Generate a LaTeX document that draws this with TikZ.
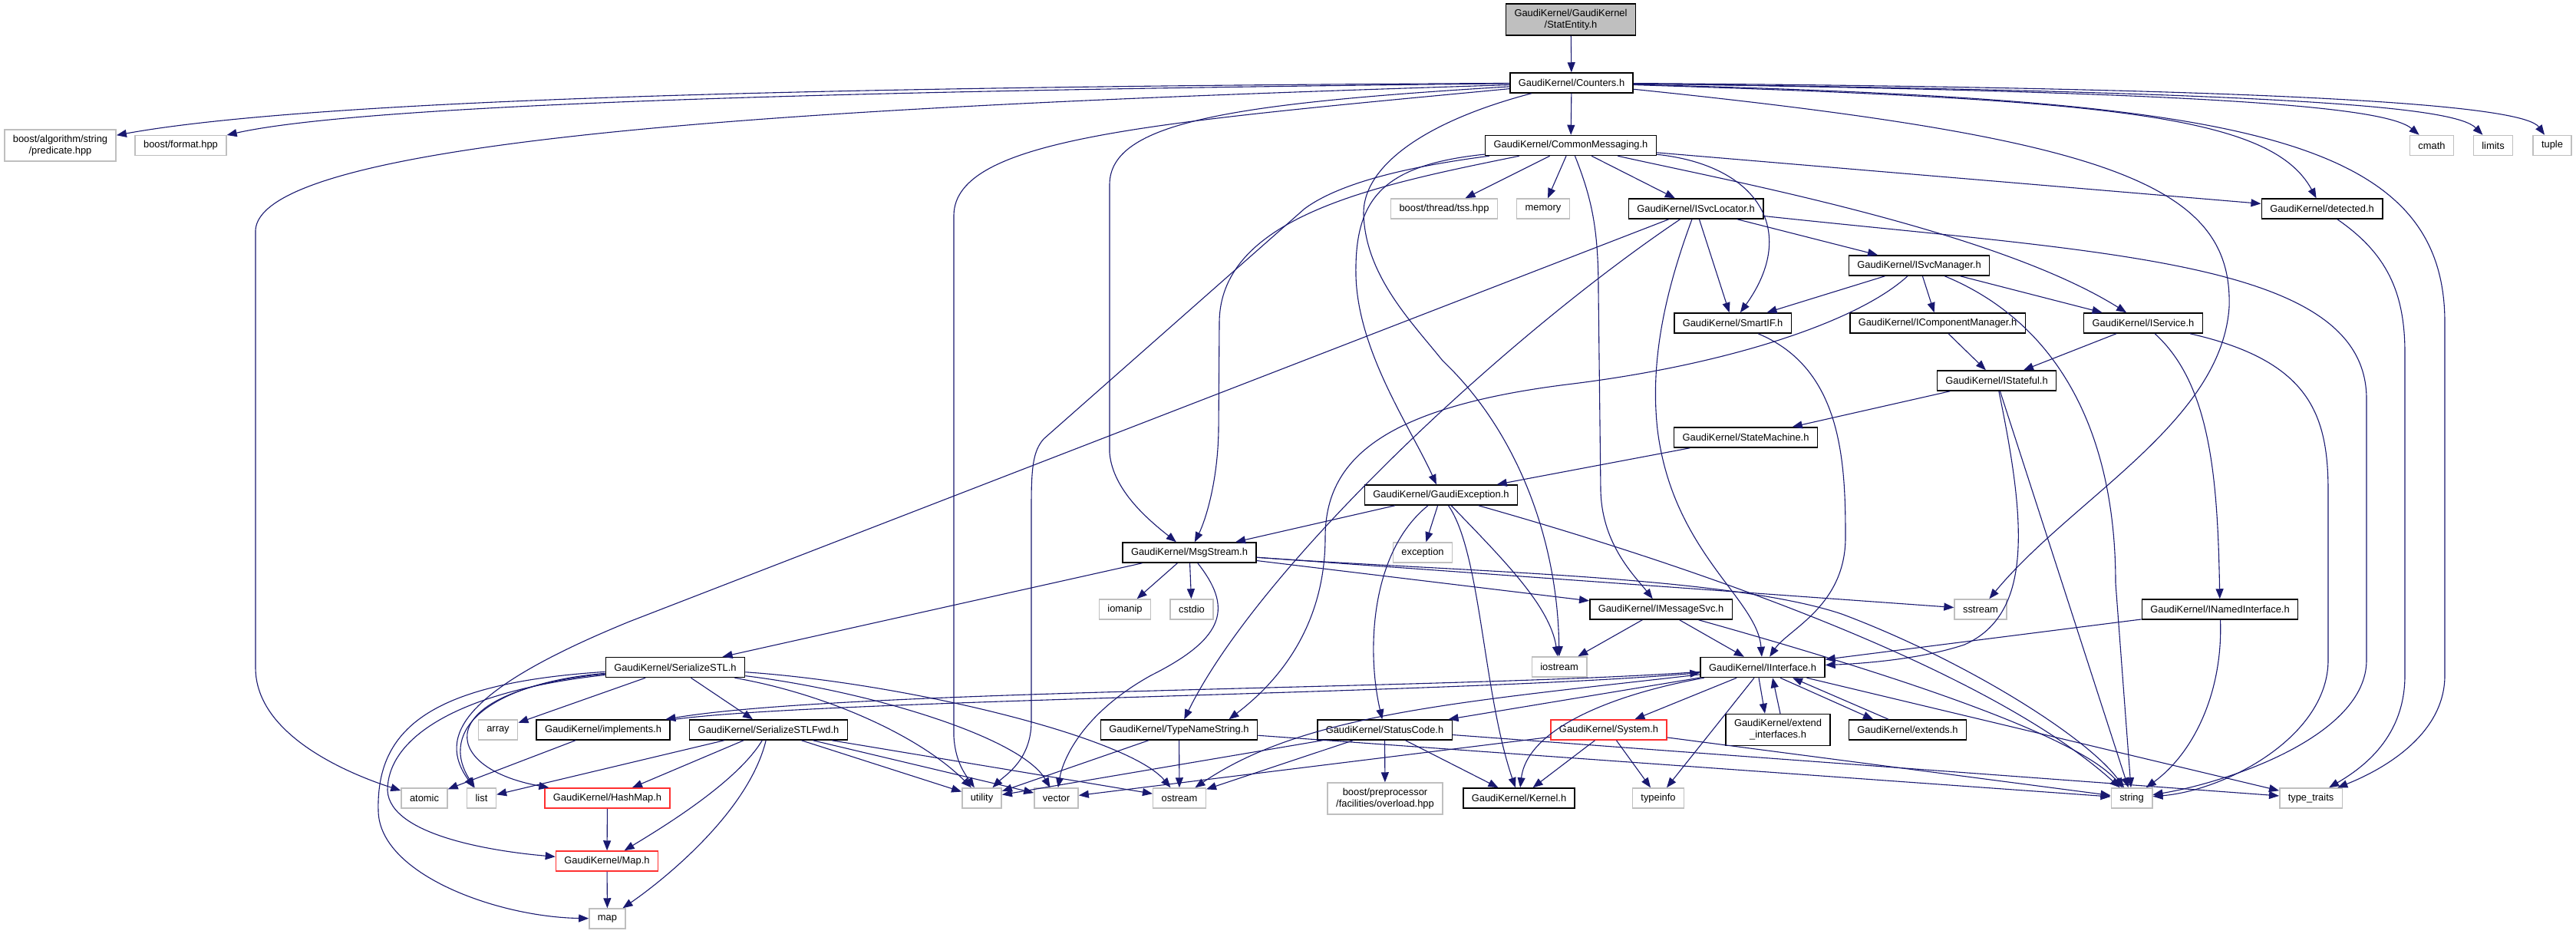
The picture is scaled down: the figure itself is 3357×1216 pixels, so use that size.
\documentclass[tikz,border=0pt]{standalone}
\usepackage{fontspec}
\setmainfont{Liberation Sans}
\usetikzlibrary{arrows.meta}
\definecolor{Edge}{HTML}{191970}
\definecolor{SysLine}{HTML}{BFBFBF}
\definecolor{RootFill}{HTML}{BFBFBF}
\definecolor{Warn}{HTML}{FF3030}

\begin{document}
\begin{tikzpicture}[x=1pt,y=-1pt,>={Triangle[length=13pt,width=10pt]},
 font=\fontsize{12.9}{15}\selectfont,
 hdr/.style={draw=black,line width=1.5pt,fill=white,inner xsep=11pt,inner ysep=2pt,minimum height=26pt,align=center},
 syshdr/.style={hdr,draw=SysLine},
 redhdr/.style={hdr,draw=Warn},
 roothdr/.style={hdr,fill=RootFill},
 twoline/.style={minimum height=41pt},
 dep/.style={->,draw=Edge,line width=1.1pt}]
\useasboundingbox (0,0) rectangle (3357,1216);

\node[roothdr,twoline] (stat) at (2047,25.5) {GaudiKernel/GaudiKernel\\/StatEntity.h};
\node[hdr] (counters) at (2048,108) {GaudiKernel/Counters.h};
\node[syshdr,twoline] (pred) at (78.5,189.5) {boost/algorithm/string\\/predicate.hpp};
\node[syshdr] (fmt) at (235.5,189.5) {boost/format.hpp};
\node[hdr] (cm) at (2047,189.5) {GaudiKernel/CommonMessaging.h};
\node[syshdr] (tss) at (1882,272) {boost/thread/tss.hpp};
\node[hdr] (svcloc) at (2210,272) {GaudiKernel/ISvcLocator.h};
\node[hdr] (detected) at (3026,272) {GaudiKernel/detected.h};
\node[hdr] (svcmgr) at (2501,346) {GaudiKernel/ISvcManager.h};
\node[hdr] (smartif) at (2258,421) {GaudiKernel/SmartIF.h};
\node[hdr] (compmgr) at (2525,421) {GaudiKernel/IComponentManager.h};
\node[hdr] (iservice) at (2793,421) {GaudiKernel/IService.h};
\node[hdr] (istateful) at (2602,496) {GaudiKernel/IStateful.h};
\node[hdr] (statemach) at (2275,570) {GaudiKernel/StateMachine.h};
\node[hdr] (gexc) at (1878,645) {GaudiKernel/GaudiException.h};
\node[hdr] (msgstream) at (1550,720) {GaudiKernel/MsgStream.h};
\node[hdr] (imsgsvc) at (2164.5,794) {GaudiKernel/IMessageSvc.h};
\node[hdr] (inamed) at (2893,794) {GaudiKernel/INamedInterface.h};
\node[hdr] (sstl) at (880,869.5) {GaudiKernel/SerializeSTL.h};
\node[hdr] (iinterface) at (2297,869.5) {GaudiKernel/IInterface.h};
\node[hdr] (implements) at (786,951) {GaudiKernel/implements.h};
\node[hdr] (sstlfwd) at (1001.5,951) {GaudiKernel/SerializeSTLFwd.h};
\node[hdr] (typename) at (1536.5,951) {GaudiKernel/TypeNameString.h};
\node[hdr] (statuscode) at (1804.5,951) {GaudiKernel/StatusCode.h};
\node[redhdr] (system) at (2096.5,951) {GaudiKernel/System.h};
\node[hdr,twoline] (extendif) at (2317,951) {GaudiKernel/extend\\\_interfaces.h};
\node[hdr] (extends) at (2486,951) {GaudiKernel/extends.h};
\node[redhdr] (hashmap) at (791.5,1040) {GaudiKernel/HashMap.h};
\node[syshdr,twoline] (overload) at (1805,1040.5) {boost/preprocessor\\/facilities/overload.hpp};
\node[hdr] (kernel) at (1979.5,1040) {GaudiKernel/Kernel.h};
\node[redhdr] (maph) at (791,1122) {GaudiKernel/Map.h};
\foreach \n/\x/\y/\t in {cmath/3169/189.5/cmath,limits/3249/189.5/limits,tuple/3326/189.5/tuple,
 memory/2011/272/memory,exception/1854/720/exception,iomanip/1466/794/iomanip,cstdio/1553/794/cstdio,
 sstream/2581/794/sstream,iostream/2032/869/iostream,array/649/951/array,atomic/553/1040/atomic,
 list/627.5/1040/list,utility/1279.5/1040/utility,vector/1376.5/1040/vector,ostream/1537/1040/ostream,
 typeinfo/2161/1040/typeinfo,string/2778/1040/string,typetraits/3011.5/1040/type\_traits,map/791.5/1197/map}
 \node[syshdr] (\n) at (\x,\y) {\t};

\foreach \a/\b in {stat/counters,counters/cm,cm/tss,cm/memory,cm/svcloc,cm/detected,
 svcloc/smartif,svcloc/svcmgr,svcmgr/smartif,svcmgr/compmgr,svcmgr/iservice,compmgr/istateful,
 iservice/istateful,istateful/statemach,statemach/gexc,gexc/msgstream,gexc/exception,
 msgstream/sstl,msgstream/iomanip,msgstream/cstdio,msgstream/imsgsvc,msgstream/sstream,
 imsgsvc/iostream,imsgsvc/iinterface,inamed/iinterface,istateful/string,sstl/array,sstl/sstlfwd,
 implements/atomic,sstlfwd/list,sstlfwd/hashmap,sstlfwd/utility,sstlfwd/vector,sstlfwd/ostream,
 hashmap/maph,maph/map,typename/utility,typename/ostream,typename/string,
 statuscode/utility,statuscode/ostream,statuscode/overload,statuscode/kernel,statuscode/typetraits,
 system/vector,system/kernel,system/typeinfo,system/string,
 iinterface/system,iinterface/typeinfo,iinterface/statuscode,iinterface/typetraits}
 \draw[dep] (\a) -- (\b);

\draw[dep] (counters) .. controls (1300,112) and (450,122) .. (pred);
\draw[dep] (counters) .. controls (1300,116) and (500,130) .. (fmt);
\draw[dep] (counters) .. controls (1200,135) and (340,170) .. (333,300) -- (333,870)
 .. controls (333,960) and (460,1010) .. (atomic);
\draw[dep] (counters) .. controls (1500,160) and (1245,180) .. (1243,280) -- (1243,960)
 .. controls (1245,990) and (1255,1005) .. (utility);
\draw[dep] (counters) .. controls (1600,135) and (1447,160) .. (1446,240) -- (1446,590)
 .. controls (1450,640) and (1500,680) .. (msgstream);
\draw[dep] (counters) .. controls (1850,160) and (1775,220) .. (1777,280)
 .. controls (1780,360) and (1840,420) .. (1880,470)
 .. controls (1975,560) and (2030,700) .. (iostream);
\draw[dep] (counters) .. controls (2750,180) and (2910,240) .. (2905,400)
 .. controls (2895,550) and (2700,650) .. (sstream);
\draw[dep] (counters) .. controls (2750,130) and (2960,150) .. (detected);
\draw[dep] (counters) .. controls (2900,120) and (3110,140) .. (cmath);
\draw[dep] (counters) .. controls (3000,120) and (3200,140) .. (limits);
\draw[dep] (counters) .. controls (3050,115) and (3290,140) .. (tuple);
\draw[dep] (counters) .. controls (2900,130) and (3186,170) .. (3186,420) -- (3186,880)
 .. controls (3186,960) and (3100,1005) .. (typetraits);

\draw[dep] (cm) .. controls (2250,235) and (2600,300) .. (iservice);
\draw[dep] (cm) .. controls (2290,215) and (2345,300) .. (smartif);
\draw[dep] (cm) .. controls (2075,260) and (2083,300) .. (2083,380) -- (2086,640)
 .. controls (2088,710) and (2130,750) .. (imsgsvc);
\draw[dep] (cm) .. controls (1800,215) and (1765,260) .. (1767,360)
 .. controls (1770,460) and (1840,560) .. (gexc);
\draw[dep] (cm) .. controls (1800,240) and (1590,280) .. (1589,420) -- (1588,560)
 .. controls (1587,630) and (1570,680) .. (msgstream);
\draw[dep] (cm) .. controls (1850,215) and (1750,235) .. (1700,272) -- (1360,572)
 .. controls (1346,588) and (1344,610) .. (1344,660) -- (1344,940)
 .. controls (1344,990) and (1310,1010) .. (utility);

\draw[dep] (svcloc) .. controls (2750,330) and (3084,340) .. (3084,520) -- (3084,860)
 .. controls (3084,960) and (2900,1020) .. (string);
\draw[dep] (svcloc) .. controls (2170,380) and (2150,470) .. (2160,560)
 .. controls (2180,720) and (2290,780) .. (iinterface);
\draw[dep] (svcloc) -- (820,810) .. controls (600,900) and (570,960) .. (list);
\draw[dep] (svcloc) .. controls (1960,440) and (1640,740) .. (typename);
\draw[dep] (svcmgr) .. controls (2680,420) and (2757,560) .. (2757,760) -- (string);
\draw[dep] (svcmgr) .. controls (2420,420) and (2250,475) .. (2050,500)
 .. controls (1800,530) and (1727,600) .. (1727,700)
 .. controls (1727,830) and (1650,900) .. ([xshift=65pt]typename.north);
\draw[dep] (smartif) .. controls (2400,480) and (2405,600) .. (2405,700)
 .. controls (2405,790) and (2330,820) .. (iinterface);
\draw[dep] (iservice) .. controls (2880,500) and (2890,620) .. (inamed);
\draw[dep] (iservice) .. controls (3010,470) and (3034,540) .. (3034,640) -- (3034,860)
 .. controls (3034,960) and (2900,1030) .. (string);
\draw[dep] (istateful) .. controls (2640,680) and (2650,800) .. (2560,840)
 .. controls (2500,860) and (2420,865) .. (iinterface);
\draw[dep] (inamed) .. controls (2897,900) and (2860,980) .. (string);
\draw[dep] (detected) .. controls (3110,330) and (3134,380) .. (3134,460) -- (3134,880)
 .. controls (3134,960) and (3080,1000) .. (typetraits);

\draw[dep] (gexc) .. controls (1785,720) and (1781,850) .. (statuscode);
\draw[dep] (gexc) .. controls (1930,720) and (1932,900) .. (kernel);
\draw[dep] (gexc) .. controls (1960,730) and (2020,790) .. (iostream);
\draw[dep] (gexc) .. controls (2250,750) and (2600,880) .. (string);
\draw[dep] (msgstream) .. controls (1605,790) and (1600,830) .. (1500,880)
 .. controls (1410,930) and (1385,990) .. (vector);
\draw[dep] (msgstream) .. controls (1900,745) and (2250,750) .. (2400,800)
 .. controls (2560,860) and (2720,960) .. (string);
\draw[dep] (imsgsvc) .. controls (2400,860) and (2700,950) .. (string);

\draw[dep] (sstl) .. controls (560,890) and (490,950) .. (493,1057)
 .. controls (495,1140) and (650,1195) .. (map);
\draw[dep] (sstl) .. controls (600,900) and (505,960) .. (505,1030)
 .. controls (508,1090) and (650,1110) .. (maph);
\draw[dep] (sstl) .. controls (640,890) and (570,950) .. (list);
\draw[dep] (sstl) .. controls (560,900) and (570,1000) .. (hashmap);
\draw[dep] (sstl) .. controls (1080,905) and (1200,960) .. (utility);
\draw[dep] (sstl) .. controls (1130,900) and (1330,960) .. (vector);
\draw[dep] (sstl) .. controls (1180,890) and (1470,960) .. (ostream);
\draw[dep] (sstlfwd) .. controls (960,1020) and (860,1080) .. (maph);
\draw[dep] (sstlfwd) .. controls (975,1060) and (860,1150) .. (map);

\draw[dep] (iinterface) .. controls (1900,898) and (1100,898) .. (implements);
\draw[dep] (implements) .. controls (1050,912) and (1900,904) .. (iinterface);
\draw[dep] (iinterface) .. controls (2100,905) and (1990,950) .. (kernel);
\draw[dep] (iinterface) .. controls (1900,915) and (1700,930) .. (ostream);
\draw[dep] ([xshift=-5pt]iinterface.south) -- ([xshift=-17pt]extendif.north);
\draw[dep] ([xshift=3pt]extendif.north) -- ([xshift=13pt]iinterface.south);
\draw[dep] ([xshift=23pt]iinterface.south) -- ([xshift=-45pt]extends.north);
\draw[dep] ([xshift=-25pt]extends.north) -- ([xshift=39pt]iinterface.south);
\end{tikzpicture}
\end{document}
